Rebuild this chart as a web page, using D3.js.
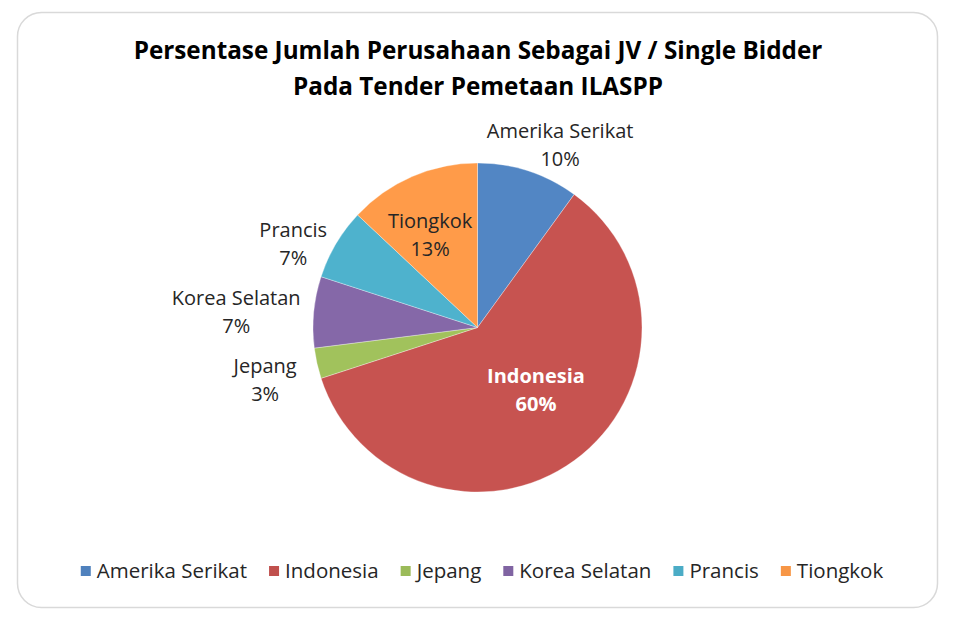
<!DOCTYPE html>
<html>
<head>
<meta charset="utf-8">
<script src="https://cdn.jsdelivr.net/npm/d3@7"></script>
<style>
  body { margin: 0; background: #fff; }
  svg { display: block; font-family: "Open Sans", Lato, sans-serif; }
</style>
</head>
<body>
<div class="chart"></div>
<script>
var countries = ["Amerika Serikat", "Indonesia", "Jepang", "Korea Selatan", "Prancis", "Tiongkok"];
var shares = [10, 60, 3, 7, 7, 13];
var titleLines = ["Persentase Jumlah Perusahaan Sebagai JV / Single Bidder", "Pada Tender Pemetaan ILASPP"];

var colors = ["#4F81BD", "#C0504D", "#9BBB59", "#8064A2", "#4BACC6", "#F79646"];

var svgWidth = 953;
var svgHeight = 619;

var svg = d3.select(".chart")
  .append("svg")
  .attr("width", svgWidth)
  .attr("height", svgHeight);

// chart frame
svg.append("rect")
  .attr("x", 17.5).attr("y", 12.5)
  .attr("width", 920).attr("height", 595)
  .attr("rx", 24).attr("ry", 24)
  .attr("fill", "#fff")
  .attr("stroke", "#d9d9d9")
  .attr("stroke-width", 1.5);

// title, sized so the first line spans about the same width as the original
var title = svg.append("text")
  .attr("text-anchor", "middle")
  .attr("font-weight", "bold")
  .attr("font-size", 24)
  .attr("fill", "#000");
title.selectAll("tspan")
  .data(titleLines)
  .enter()
  .append("tspan")
  .attr("x", 478)
  .attr("y", (d, i) => 59 + i * 36)
  .text(d => d);
var firstW = title.select("tspan").node().getComputedTextLength();
title.attr("font-size", Math.min(26, 24 * 689 / firstW));

// gradients, slightly lighter on top like the office style
var defs = svg.append("defs");
colors.forEach(function(c, i) {
  var g = defs.append("linearGradient")
    .attr("id", "grad" + i)
    .attr("gradientUnits", "userSpaceOnUse")
    .attr("x1", 0).attr("y1", 163).attr("x2", 0).attr("y2", 492);
  g.append("stop").attr("offset", "0%").attr("stop-color", d3.color(c).brighter(0.1));
  g.append("stop").attr("offset", "100%").attr("stop-color", d3.color(c).darker(0.25));
});

var cx = 477.5, cy = 327.5, radius = 164.5;

var pie = d3.pie().sort(null).value(d => d);
var arcs = pie(shares);
var arc = d3.arc().innerRadius(0).outerRadius(radius);

var pieGroup = svg.append("g")
  .attr("transform", `translate(${cx}, ${cy})`);

pieGroup.selectAll("path")
  .data(arcs)
  .enter()
  .append("path")
  .attr("d", arc)
  .attr("fill", (d, i) => "url(#grad" + i + ")")
  .attr("stroke", "rgba(255,255,255,0.45)")
  .attr("stroke-width", 0.7);

// label placement: rotation from mid angle (deg) and distance as share of radius
var labelLayout = [
  { turn: 6.3, dist: 1.22 },
  { turn: -7.1, dist: 0.52, bold: true, fill: "#fff" },
  { turn: -1.3, dist: 1.33 },
  { turn: -1.7, dist: 1.47 },
  { turn: -6.2, dist: 1.23 },
  { turn: -3.8, dist: 0.63 }
];

var labels = pieGroup.selectAll(".lbl")
  .data(arcs)
  .enter()
  .append("text")
  .attr("class", "lbl")
  .attr("text-anchor", "middle")
  .attr("font-size", 20)
  .attr("font-weight", (d, i) => labelLayout[i].bold ? "bold" : "normal")
  .attr("fill", (d, i) => labelLayout[i].fill || "#262626")
  .attr("transform", function(d, i) {
    var a = (d.startAngle + d.endAngle) / 2 + labelLayout[i].turn * Math.PI / 180;
    var r = radius * labelLayout[i].dist;
    return `translate(${r * Math.sin(a)}, ${-r * Math.cos(a)})`;
  });

labels.append("tspan")
  .attr("x", 0).attr("y", -7)
  .text((d, i) => countries[i]);
labels.append("tspan")
  .attr("x", 0).attr("y", 21)
  .text(d => d3.format(".0%")(d.value / d3.sum(shares)));

// legend
var legend = svg.append("g").attr("font-size", 20.5).attr("fill", "#262626");
var items = legend.selectAll("g")
  .data(countries)
  .enter()
  .append("g");
items.append("rect")
  .attr("width", 10).attr("height", 10)
  .attr("y", 566)
  .attr("fill", (d, i) => colors[i]);
items.append("text")
  .attr("x", 16)
  .attr("y", 578)
  .text(d => d);

var xPos = 0;
items.each(function() {
  var w = this.querySelector("text").getComputedTextLength();
  d3.select(this).attr("transform", `translate(${xPos}, 0)`);
  xPos += 16 + w + 22;
});
var legendWidth = xPos - 22;
legend.attr("transform", `translate(${482 - legendWidth / 2}, 0)`);
</script>
</body>
</html>
